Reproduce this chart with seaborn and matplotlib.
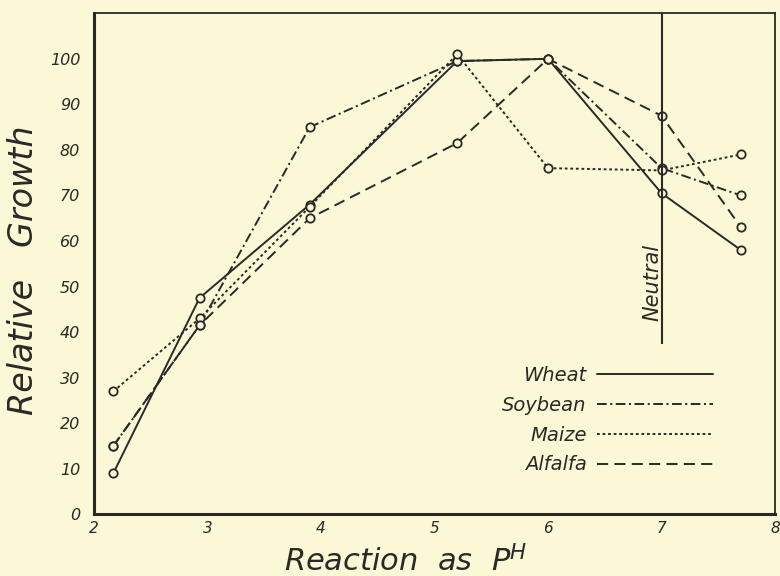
import matplotlib
matplotlib.use('Agg')
import matplotlib.pyplot as plt
from matplotlib.lines import Line2D
import seaborn as sns

# values (relative growth vs pH)
ph = [2.17, 2.93, 3.9, 5.2, 6.0, 7.0, 7.7]

wheat = [9, 47.5, 68, 99.5, 100, 70.5, 58]
soybean = [15, 41.5, 85, 99.5, 100, 76, 70]
maize = [27, 43, 67.5, 101, 76, 75.5, 79]
alfalfa = [15, 41.5, 65, 81.5, 100, 87.5, 63]

crops = ['Wheat', 'Soybean', 'Maize', 'Alfalfa']
x_ticks = [2, 3, 4, 5, 6, 7, 8]
y_ticks = [0, 10, 20, 30, 40, 50, 60, 70, 80, 90, 100]
neutral_ph = 7
neutral_bottom = 37.5

paper = '#faf8d6'
ink = '#2b2925'

sns.set_style('white')
plt.rcParams['font.family'] = ['DejaVu Sans']
plt.rcParams['lines.scale_dashes'] = False

series = {'Wheat': wheat, 'Soybean': soybean, 'Maize': maize, 'Alfalfa': alfalfa}
styles = {
    'Wheat': '-',
    'Soybean': (0, (7, 2.5, 1.5, 2.5)),
    'Maize': (0, (2, 2)),
    'Alfalfa': (0, (8, 4.5)),
}

fig, ax = plt.subplots(figsize=(7.8, 5.76), dpi=100)
fig.patch.set_facecolor(paper)
ax.set_facecolor(paper)
fig.subplots_adjust(left=0.1205, right=0.9936, bottom=0.107, top=0.977)

for crop in crops:
    sns.lineplot(x=ph, y=series[crop], ax=ax, color=ink, linestyle=styles[crop],
                 lw=1.4, marker='o', markersize=6, markerfacecolor=paper,
                 markeredgecolor=ink, markeredgewidth=1.3)

# neutral line at pH 7
ax.vlines(neutral_ph, neutral_bottom, 110, color=ink, lw=1.5)
ax.text(neutral_ph - 0.08, 51, 'Neutral', rotation=90, ha='center', va='center',
        style='italic', fontsize=15, color=ink)

ax.set_xlim(2, 8)
ax.set_ylim(0, 110)
ax.set_xticks(x_ticks)
ax.set_yticks(y_ticks)
ax.tick_params(axis='x', direction='in', length=5, width=1.2, pad=5,
               labelsize=11, colors=ink)
ax.tick_params(axis='y', direction='out', length=5, width=1.2, pad=5,
               labelsize=11.5, colors=ink)
for lab in ax.get_xticklabels() + ax.get_yticklabels():
    lab.set_fontstyle('italic')

for side in ['left', 'bottom']:
    ax.spines[side].set_linewidth(2.2)
    ax.spines[side].set_color(ink)
for side in ['top', 'right']:
    ax.spines[side].set_linewidth(1.3)
    ax.spines[side].set_color(ink)

ax.set_xlabel(r'Reaction  as  P$^{\mathit{H}}$', fontsize=22, style='italic', color=ink)
ax.set_ylabel('Relative   Growth', fontsize=24, style='italic', color=ink)
ax.xaxis.set_label_coords(0.457, -0.06)
ax.yaxis.set_label_coords(-0.08, 0.488)

handles = [Line2D([], [], color=ink, lw=1.4, linestyle=styles[c]) for c in crops]
ax.legend(handles, crops, loc='lower right', bbox_to_anchor=(0.935, 0.045),
          frameon=False, markerfirst=False, handlelength=6.0, handletextpad=0.5,
          labelspacing=0.55, prop={'size': 14, 'style': 'italic'}, labelcolor=ink)

fig.savefig('out.png', dpi=100, facecolor=paper)
